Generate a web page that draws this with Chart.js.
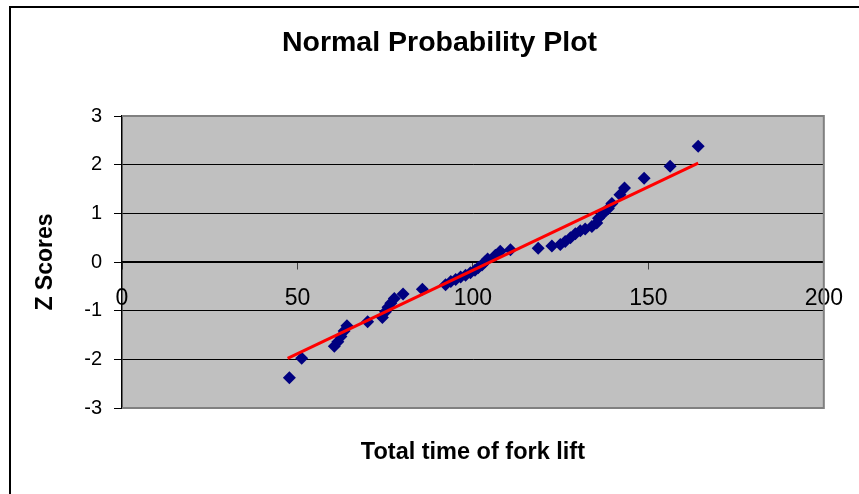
<!DOCTYPE html>
<html>
<head>
<meta charset="utf-8">
<script src="https://cdn.jsdelivr.net/npm/chart.js@4"></script>
<style>
  html, body { margin: 0; padding: 0; background: #fff; }
  #wrap { position: relative; width: 859px; height: 494px; }
</style>
</head>
<body>
<div id="wrap"><canvas id="npp"></canvas></div>
<script>
// Sorted fork lift times and their normal scores
const forkTimes = [47.7, 51.2, 60.5, 61.5, 62.4, 63.3, 64.1, 70.0, 74.2, 75.1, 75.8, 76.6, 77.6, 80.1, 85.6,
    92.2, 93.7, 95.1, 96.5, 97.9, 99.3, 100.6, 101.5, 102.6, 103.4, 104.2, 106.4, 107.8, 110.7,
    118.6, 122.5, 124.9, 126.3, 127.8, 129.2, 130.6, 132.0, 133.9, 135.3, 135.8, 137.2, 138.6,
    139.6, 141.9, 143.2, 148.8, 156.2, 164.2];
const zScores = [-2.38, -1.98, -1.73, -1.64, -1.53, -1.42, -1.31, -1.23, -1.14, -1.02, -0.93, -0.85, -0.75, -0.66, -0.56,
    -0.47, -0.40, -0.36, -0.31, -0.27, -0.22, -0.17, -0.12, -0.06, 0.00, 0.06, 0.14, 0.22, 0.25,
    0.28, 0.33, 0.36, 0.42, 0.50, 0.58, 0.64, 0.68, 0.73, 0.80, 0.90, 1.00, 1.10,
    1.20, 1.38, 1.52, 1.72, 1.97, 2.38];

// Reference line end points
const fitX = [47.2, 164.2];
const fitZ = [-1.98, 2.03];

const xTicks = [0, 50, 100, 150, 200];
const yTicks = [-3, -2, -1, 0, 1, 2, 3];

const fontFamily = "'Liberation Sans', Arial, sans-serif";

// grey plot area, grey frame, and the outer chart border
const plotBackground = {
    id: 'plotBackground',
    beforeDraw(chart) {
        const { ctx, chartArea: a } = chart;
        ctx.save();
        ctx.fillStyle = '#c0c0c0';
        ctx.fillRect(a.left, a.top, a.right - a.left, a.bottom - a.top);
        ctx.fillStyle = '#000';
        ctx.fillRect(9, 6, 850, 2);
        ctx.fillRect(9, 6, 2, 488);
        ctx.restore();
    },
    afterDatasetsDraw(chart) {
        const { ctx, chartArea: a } = chart;
        ctx.save();
        ctx.strokeStyle = '#808080';
        ctx.lineWidth = 2;
        ctx.beginPath();
        ctx.moveTo(a.left, a.top);
        ctx.lineTo(a.right, a.top);
        ctx.lineTo(a.right, a.bottom);
        ctx.lineTo(a.left, a.bottom);
        ctx.stroke();
        ctx.restore();
    }
};

const points = forkTimes.map((t, i) => ({ x: t, y: zScores[i] }));
const fitLine = fitX.map((t, i) => ({ x: t, y: fitZ[i] }));

new Chart(document.getElementById('npp'), {
    type: 'scatter',
    data: {
        datasets: [
            {
                type: 'line',
                data: fitLine,
                borderColor: '#ff0000',
                borderWidth: 3,
                pointRadius: 0,
                fill: false,
                order: 1
            },
            {
                data: points,
                pointStyle: 'rectRot',
                pointRadius: 6.5,
                backgroundColor: '#000080',
                borderColor: '#000080',
                borderWidth: 0,
                order: 2
            }
        ]
    },
    options: {
        responsive: true,
        maintainAspectRatio: false,
        animation: false,
        layout: { padding: { left: 20, right: 0, top: 0, bottom: 0 } },
        plugins: {
            legend: { display: false },
            tooltip: { enabled: false },
            title: {
                display: true,
                text: 'Normal Probability Plot',
                color: '#000',
                font: { family: fontFamily, size: 28.5, weight: 'bold' },
                padding: { top: 26, bottom: 55.8 }
            }
        },
        scales: {
            x: {
                type: 'linear',
                position: { y: 0 },
                min: 0,
                max: 200,
                afterBuildTicks: s => { s.ticks = xTicks.map(v => ({ value: v })); },
                ticks: {
                    color: '#000',
                    font: { family: fontFamily, size: 23 },
                    padding: 16,
                    maxRotation: 0
                },
                grid: { drawOnChartArea: false, drawTicks: true, tickLength: 7, tickColor: '#404040' },
                border: { color: '#000', width: 1.5 }
            },
            xTitle: {
                type: 'linear',
                axis: 'x',
                position: 'bottom',
                min: 0,
                max: 200,
                ticks: { display: false },
                grid: { display: false, drawTicks: false },
                border: { display: false },
                title: {
                    display: true,
                    text: 'Total time of fork lift',
                    color: '#000',
                    font: { family: fontFamily, size: 23.5, weight: 'bold' },
                    padding: { top: 0, bottom: 27 }
                },
                afterFit: s => { s.height = 86; }
            },
            y: {
                type: 'linear',
                position: 'left',
                min: -3,
                max: 3,
                afterBuildTicks: s => { s.ticks = yTicks.map(v => ({ value: v })); },
                ticks: {
                    color: '#000',
                    font: { family: fontFamily, size: 20 },
                    padding: 12
                },
                grid: {
                    color: c => (c.tick && Math.abs(c.tick.value) === 3) ? 'rgba(0,0,0,0)' : '#000',
                    lineWidth: 1,
                    tickLength: 8,
                    tickColor: '#000'
                },
                border: { color: '#000', width: 1.5 },
                title: {
                    display: true,
                    text: 'Z Scores',
                    color: '#000',
                    font: { family: fontFamily, size: 23, weight: 'bold' },
                    padding: { top: 12, bottom: 0 }
                },
                afterFit: s => { s.width = 102; }
            },
            yRight: {
                type: 'linear',
                position: 'right',
                ticks: { display: false },
                grid: { display: false, drawTicks: false },
                border: { display: false },
                afterFit: s => { s.width = 31; }
            }
        }
    },
    plugins: [plotBackground]
});
</script>
</body>
</html>
